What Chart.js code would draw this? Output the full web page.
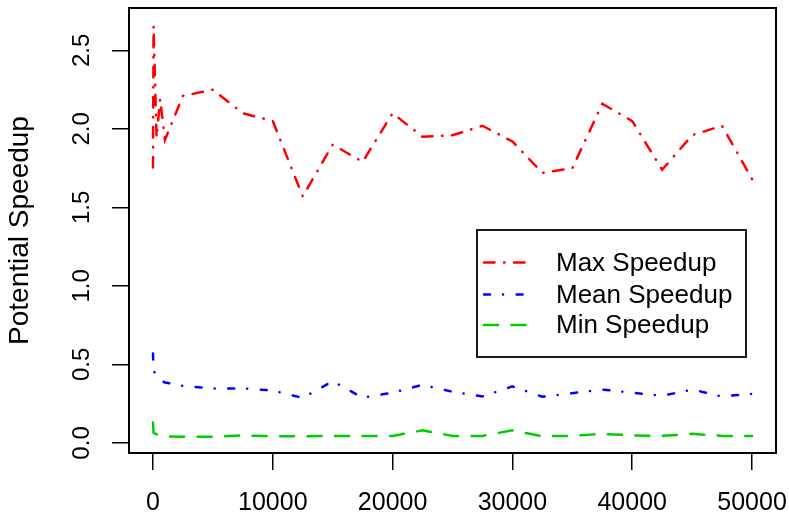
<!DOCTYPE html>
<html>
<head>
<meta charset="utf-8">
<script src="https://cdn.jsdelivr.net/npm/chart.js@4/dist/chart.umd.min.js"></script>
<style>
  html, body { margin: 0; padding: 0; background: #fff; }
  canvas { display: block; }
</style>
</head>
<body>
<canvas id="c" width="789" height="513"></canvas>
<script>
// ---- data ----
const X_VALUES = [1, 50, 300, 600, 1000, 2500, 5000, 7500, 10000, 12500, 15000, 17500, 20000,
  22500, 25000, 27500, 30000, 32500, 35000, 37500, 40000, 42500, 45000, 47500, 50000];
const MAX_SPEEDUP = [1.755, 2.655, 1.945, 2.19, 1.93, 2.21, 2.25, 2.10, 2.05, 1.57, 1.90, 1.79, 2.10,
  1.95, 1.96, 2.02, 1.92, 1.72, 1.75, 2.16, 2.05, 1.74, 1.96, 2.02, 1.68];
const MEAN_SPEEDUP = [0.57, 0.46, 0.43, 0.40, 0.385, 0.363, 0.347, 0.347, 0.334, 0.287, 0.393, 0.288, 0.32,
  0.37, 0.326, 0.296, 0.36, 0.294, 0.317, 0.34, 0.32, 0.30, 0.34, 0.296, 0.313];
const MIN_SPEEDUP = [0.13, 0.065, 0.055, 0.045, 0.042, 0.04, 0.04, 0.048, 0.043, 0.043, 0.045, 0.045, 0.045,
  0.08, 0.045, 0.045, 0.08, 0.043, 0.045, 0.058, 0.048, 0.045, 0.058, 0.045, 0.045];
const SERIES_NAMES = ['Max Speedup', 'Mean Speedup', 'Min Speedup'];
const X_TICKS = [0, 10000, 20000, 30000, 40000, 50000];
const X_TICK_LABELS = ['0', '10000', '20000', '30000', '40000', '50000'];
const Y_TICKS = [0, 0.5, 1.0, 1.5, 2.0, 2.5];
const Y_TICK_LABELS = ['0.0', '0.5', '1.0', '1.5', '2.0', '2.5'];
const Y_TITLE = 'Potential Speedup';

const FONT = '"Liberation Sans", Arial, Helvetica, sans-serif';

function pts(ys) { return X_VALUES.map((x, i) => ({ x: x, y: ys[i] })); }

const boxPlugin = {
  id: 'box',
  afterDraw(chart) {
    const { ctx, chartArea: a } = chart;
    ctx.save();
    ctx.strokeStyle = '#000';
    ctx.lineWidth = 2;
    ctx.strokeRect(a.left, a.top, a.right - a.left, a.bottom - a.top);
    ctx.restore();
  }
};

const legendPlugin = {
  id: 'rlegend',
  afterDraw(chart) {
    const { ctx } = chart;
    const bx = 477, by = 230, bw = 269, bh = 127;
    ctx.save();
    ctx.fillStyle = '#fff';
    ctx.fillRect(bx, by, bw, bh);
    ctx.strokeStyle = '#000';
    ctx.lineWidth = 1.8;
    ctx.strokeRect(bx, by, bw, bh);
    const rows = [262.5, 294.5, 325];
    chart.data.datasets.forEach((ds, i) => {
      const y = rows[i];
      ctx.beginPath();
      ctx.setLineDash(ds.borderDash || []);
      ctx.lineCap = 'round';
      ctx.strokeStyle = ds.borderColor;
      ctx.lineWidth = ds.borderWidth;
      ctx.moveTo(484, y);
      ctx.lineTo(531, y);
      ctx.stroke();
      ctx.setLineDash([]);
      ctx.fillStyle = '#000';
      ctx.font = '26px ' + FONT;
      ctx.textBaseline = 'middle';
      ctx.textAlign = 'left';
      ctx.fillText(ds.label, 556, y + 1);
    });
    ctx.restore();
  }
};

new Chart(document.getElementById('c'), {
  type: 'line',
  data: {
    datasets: [
      { label: SERIES_NAMES[0], data: pts(MAX_SPEEDUP), borderColor: '#ff0000', borderWidth: 2.5,
        borderDash: [10.5, 9.5, 0.5, 9.5], borderCapStyle: 'round', pointRadius: 0, tension: 0, fill: false },
      { label: SERIES_NAMES[1], data: pts(MEAN_SPEEDUP), borderColor: '#0000ff', borderWidth: 2.5,
        borderDash: [6, 13, 0.1, 13.5], borderCapStyle: 'round', pointRadius: 0, tension: 0, fill: false },
      { label: SERIES_NAMES[2], data: pts(MIN_SPEEDUP), borderColor: '#00cd00', borderWidth: 2.5,
        borderDash: [14, 13.5], borderCapStyle: 'round', pointRadius: 0, tension: 0, fill: false }
    ]
  },
  options: {
    responsive: false,
    animation: false,
    devicePixelRatio: 1,
    layout: { padding: { top: 8, right: 13, left: 0, bottom: 0 } },
    plugins: { legend: { display: false }, tooltip: { enabled: false } },
    scales: {
      x: {
        type: 'linear',
        min: -2000, max: 52000,
        border: { display: false },
        grid: { drawOnChartArea: false, drawTicks: true, tickLength: 17, color: '#000', lineWidth: 1.5 },
        afterBuildTicks(s) { s.ticks = X_TICKS.map(v => ({ value: v })); },
        afterFit(s) { s.height = 60; s.paddingLeft = 0; s.paddingRight = 0; },
        ticks: {
          autoSkip: false, minRotation: 0, maxRotation: 0, padding: 18, color: '#000',
          font: { family: FONT, size: 25 },
          callback: (v, i) => X_TICK_LABELS[i]
        }
      },
      y: {
        type: 'linear',
        min: -0.064, max: 2.77,
        border: { display: false },
        grid: { drawOnChartArea: false, drawTicks: true, tickLength: 17, color: '#000', lineWidth: 1.5 },
        afterBuildTicks(s) { s.ticks = Y_TICKS.map(v => ({ value: v })); },
        afterFit(s) { s.width = 129; s.paddingTop = 0; s.paddingBottom = 0; },
        title: { display: true, text: Y_TITLE, color: '#000', font: { family: FONT, size: 28 }, padding: { top: 3, bottom: 0 } },
        ticks: {
          autoSkip: false, minRotation: 90, maxRotation: 90, crossAlign: 'center', padding: 13, color: '#000',
          font: { family: FONT, size: 24 },
          callback: (v, i) => Y_TICK_LABELS[i]
        }
      }
    }
  },
  plugins: [boxPlugin, legendPlugin]
});
</script>
</body>
</html>
